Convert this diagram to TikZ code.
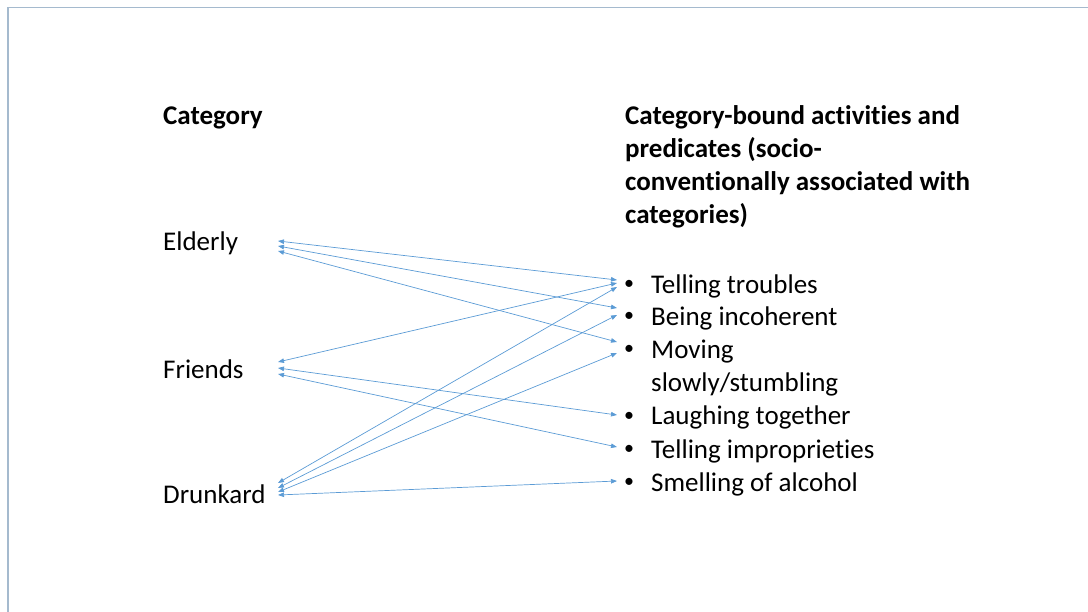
\documentclass[tikz,border=0pt]{standalone}
\usepackage{fontspec}
\setmainfont{Carlito}[Ligatures=NoCommon]
\usetikzlibrary{calc, arrows.meta, positioning}
\definecolor{linkblue}{RGB}{91,155,213}
\definecolor{framegray}{RGB}{165,186,206}

\begin{document}
\begin{tikzpicture}[x=1pt,y=-1pt,
    every node/.style={inner sep=0pt,anchor=base west,font=\fontsize{27}{33}\selectfont},
    head/.style={font=\fontsize{27}{33}\selectfont\bfseries,align=left},
    bul/.style={anchor=base,font=\fontsize{20}{20}\selectfont},
    link/.style={linkblue,line width=0.7pt,{Triangle[length=6pt,width=4.5pt]}-{Triangle[length=6pt,width=4.5pt]}}]
	\useasboundingbox (0,0) rectangle (1088,612);
	\draw[framegray,line width=1.5pt] (8,612) -- (8,7.5) -- (1088,7.5);
	% left column
	\node[head] (cat) at (163,125) {Category};
	\node (eld) at (163,251) {Elderly};
	\node (fri) at (163,379) {Friends};
	\node (dru) at (163,503) {Drunkard};
	% right column (base of a multi-line node is its last line)
	\node[head] (cba) at (625,224) {Category-bound activities and\\predicates (socio-\\conventionally associated with\\categories)};
	\node[bul] (b1) at (629,290) {\textbullet};
	\node[bul] (b2) at (629,322) {\textbullet};
	\node[bul] (b3) at (629,355) {\textbullet};
	\node[bul] (b4) at (629,421) {\textbullet};
	\node[bul] (b5) at (629,454) {\textbullet};
	\node[bul] (b6) at (629,487) {\textbullet};
	\node (tro) at (651,294) {Telling troubles};
	\node (inc) at (651,326) {Being incoherent};
	\node[align=left] (mov) at (651,392) {Moving\\slowly/stumbling};
	\node (lau) at (651,425) {Laughing together};
	\node (imp) at (651,458) {Telling improprieties};
	\node (sme) at (651,491) {Smelling of alcohol};
	% links
	\draw[link] ($(eld.base west)+(115,-10)$) -- ($(b1.base)+(-12,-10)$);
	\draw[link] ($(eld.base west)+(115,-5)$) -- ($(b2.base)+(-12,-14)$);
	\draw[link] ($(eld.base west)+(115,0)$) -- ($(b3.base)+(-12,-13)$);
	\draw[link] ($(fri.base west)+(115,-17)$) -- ($(b1.base)+(-12,-7)$);
	\draw[link] ($(fri.base west)+(115,-11)$) -- ($(b4.base)+(-12,-6)$);
	\draw[link] ($(fri.base west)+(115,-5)$) -- ($(b5.base)+(-12,-7)$);
	\draw[link] ($(dru.base west)+(115,-20)$) -- ($(b1.base)+(-12,-3)$);
	\draw[link] ($(dru.base west)+(115,-15)$) -- ($(b2.base)+(-12,-7)$);
	\draw[link] ($(dru.base west)+(115,-11)$) -- ($(b3.base)+(-12,-2)$);
	\draw[link] ($(dru.base west)+(115,-8)$) -- ($(b6.base)+(-12,-6)$);
\end{tikzpicture}
\end{document}
